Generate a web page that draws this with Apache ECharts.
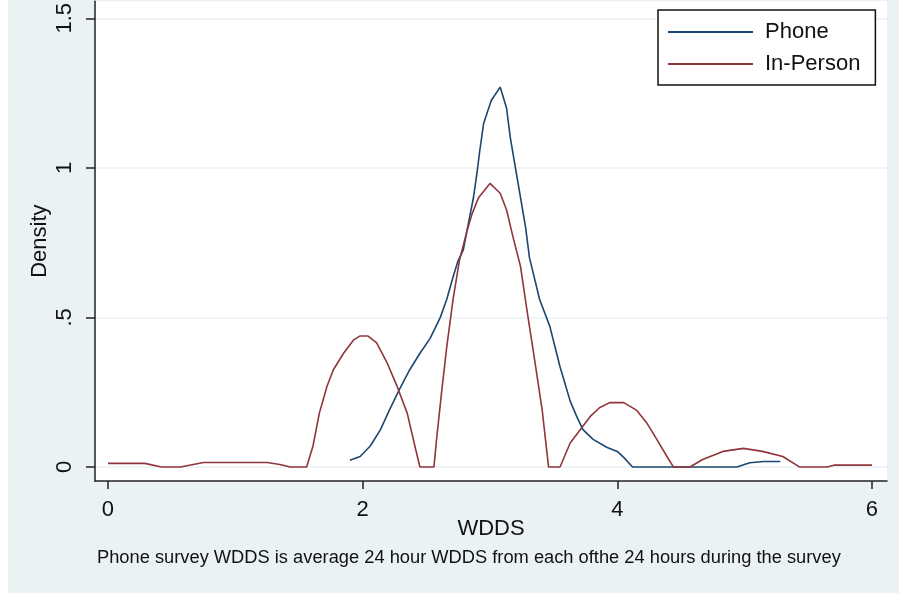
<!DOCTYPE html>
<html>
<head>
<meta charset="utf-8">
<script src="https://cdn.jsdelivr.net/npm/echarts@6/dist/echarts.min.js"></script>
<style>
  html, body { margin: 0; padding: 0; background: #fff; }
  #main { width: 899px; height: 594px; }
</style>
</head>
<body>
<div id="main"></div>
<script>
// kernel density estimates
const phoneX = [1.90, 1.98, 2.06, 2.14, 2.21, 2.29, 2.37, 2.45, 2.53, 2.61, 2.66, 2.71, 2.75, 2.79, 2.84, 2.87, 2.90, 2.92, 2.95, 3.01, 3.08, 3.13, 3.16, 3.20, 3.24, 3.28, 3.31, 3.39, 3.47, 3.55, 3.63, 3.68, 3.73, 3.81, 3.92, 4.00, 4.05, 4.12, 4.94, 5.04, 5.15, 5.28];
const phoneY = [0.022, 0.035, 0.07, 0.125, 0.19, 0.26, 0.325, 0.38, 0.43, 0.50, 0.56, 0.635, 0.69, 0.725, 0.835, 0.90, 0.99, 1.058, 1.148, 1.225, 1.27, 1.20, 1.10, 1.0, 0.90, 0.80, 0.70, 0.56, 0.47, 0.335, 0.22, 0.17, 0.125, 0.092, 0.065, 0.052, 0.032, 0, 0, 0.014, 0.018, 0.018];

const personX = [0, 0.29, 0.42, 0.57, 0.75, 1.25, 1.35, 1.43, 1.56, 1.61, 1.66, 1.72, 1.77, 1.85, 1.93, 1.98, 2.04, 2.11, 2.19, 2.27, 2.35, 2.41, 2.45, 2.56, 2.58, 2.62, 2.66, 2.71, 2.76, 2.82, 2.86, 2.91, 3.0, 3.08, 3.13, 3.18, 3.24, 3.29, 3.35, 3.41, 3.46, 3.55, 3.63, 3.71, 3.79, 3.86, 3.94, 4.05, 4.15, 4.23, 4.31, 4.39, 4.44, 4.57, 4.67, 4.83, 4.99, 5.14, 5.30, 5.43, 5.65, 5.70, 6.0];
const personY = [0.012, 0.012, 0, 0, 0.015, 0.015, 0.008, 0, 0, 0.07, 0.18, 0.27, 0.325, 0.38, 0.425, 0.438, 0.438, 0.415, 0.35, 0.27, 0.18, 0.07, 0, 0, 0.09, 0.25, 0.40, 0.56, 0.69, 0.79, 0.847, 0.90, 0.948, 0.915, 0.86, 0.77, 0.67, 0.525, 0.36, 0.19, 0, 0, 0.08, 0.125, 0.17, 0.198, 0.215, 0.215, 0.19, 0.148, 0.092, 0.035, 0, 0, 0.025, 0.052, 0.062, 0.052, 0.035, 0, 0, 0.006, 0.006];

const xTicks = [0, 2, 4, 6];
const yTicks = [0, 0.5, 1, 1.5];
const yTickLabels = {0: '0', 0.5: '.5', 1: '1', 1.5: '1.5'};
const note = 'Phone survey WDDS is average 24 hour WDDS from each ofthe 24 hours during the survey';

function pairs(xs, ys) {
	return xs.map((x, i) => [x, ys[i]]);
}

const FONT = 'Liberation Sans, Arial, sans-serif';
let myCharts = echarts.init(document.getElementById('main'), null, {renderer: 'canvas'});

let option = {
	backgroundColor: '#fff',
	animation: false,
	textStyle: {fontFamily: FONT},
	graphic: [
		{
			type: 'rect', z: -10, silent: true,
			shape: {x: 8, y: 0, width: 891, height: 593},
			style: {fill: '#eaf2f3'}
		},
		{
			type: 'text', left: 97, top: 549,
			style: {text: note, font: '18.3px ' + FONT, fill: '#111'}
		}
	],
	grid: {
		left: 95, right: 12, top: 0, bottom: 113,
		show: true, backgroundColor: '#fff', borderWidth: 0
	},
	legend: {
		left: 658, top: 10,
		orient: 'vertical',
		padding: [11, 15, 10, 10],
		icon: 'rect',
		itemWidth: 85, itemHeight: 2, itemGap: 10,
		backgroundColor: '#fff',
		borderColor: '#111', borderWidth: 1.5, borderRadius: 0,
		textStyle: {fontSize: 22, lineHeight: 22, color: '#111', fontFamily: FONT, padding: [0, 0, 0, 7]},
		data: ['Phone', 'In-Person']
	},
	xAxis: {
		type: 'value', min: -0.102, max: 6.118,
		name: 'WDDS', nameLocation: 'middle', nameGap: 37, nameMoveOverlap: false,
		nameTextStyle: {fontSize: 22, color: '#111', fontFamily: FONT},
		axisLine: {onZero: false, lineStyle: {color: '#222', width: 1.5}},
		axisTick: {customValues: xTicks, length: 8, lineStyle: {color: '#222', width: 1.5}},
		axisLabel: {customValues: xTicks, fontSize: 22, color: '#111', margin: 18},
		splitLine: {show: false}
	},
	yAxis: {
		type: 'value', min: -0.047, max: 1.557,
		name: 'Density', nameLocation: 'middle', nameGap: 44, nameMoveOverlap: false,
		nameTextStyle: {fontSize: 22, color: '#111', fontFamily: FONT},
		axisLine: {show: true, onZero: false, lineStyle: {color: '#222', width: 1.5}},
		axisTick: {show: true, customValues: yTicks, length: 9, lineStyle: {color: '#222', width: 1.5}},
		axisLabel: {
			customValues: yTicks, fontSize: 22, color: '#111', margin: 19, rotate: 90,
			formatter: v => yTickLabels[v] !== undefined ? yTickLabels[v] : String(v)
		},
		splitLine: {show: true, lineStyle: {color: '#eaf2f3', width: 1.5}}
	},
	series: [
		{
			name: 'Phone', type: 'line', symbol: 'none',
			data: pairs(phoneX, phoneY),
			lineStyle: {color: '#1a476f', width: 1.6},
			itemStyle: {color: '#1a476f'}
		},
		{
			name: 'In-Person', type: 'line', symbol: 'none',
			data: pairs(personX, personY),
			lineStyle: {color: '#90353b', width: 1.6},
			itemStyle: {color: '#90353b'}
		}
	]
};
myCharts.setOption(option);
</script>
</body>
</html>
